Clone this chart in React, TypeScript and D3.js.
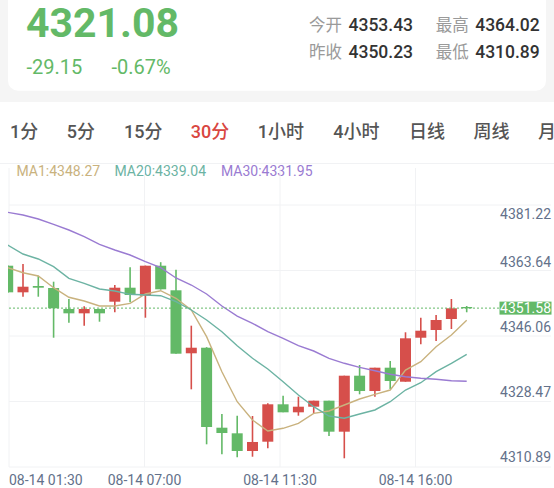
import React from "react";
import * as d3 from "d3";

// ---- data ----
const opens = [4363.07, 4355.86, 4357.57, 4357.03, 4351.34, 4350.17, 4351.34, 4353.32, 4357.11, 4354.94, 4363.07, 4356.41, 4339.34, 4340.85, 4319.18, 4317.66, 4312.87, 4315.39, 4325.52, 4323.35, 4324.87, 4326.5, 4318.1, 4333.27, 4329.12, 4335.44, 4331.64, 4343.56, 4345.65, 4348.63, 4351.88];
const closes = [4355.86, 4357.38, 4357.11, 4351.53, 4350.17, 4351.34, 4350.17, 4357.11, 4355.13, 4363.07, 4356.68, 4339.23, 4340.85, 4319.37, 4317.74, 4312.87, 4315.31, 4325.52, 4323.35, 4324.87, 4326.5, 4318.1, 4333.27, 4329.12, 4335.44, 4331.83, 4343.4, 4345.46, 4348.36, 4351.53, 4351.58];
const highs = [4363.2, 4363.53, 4360.36, 4358.74, 4354.05, 4352.07, 4351.4, 4357.84, 4362.64, 4363.1, 4364.02, 4361.99, 4346.82, 4341.0, 4322.89, 4322.43, 4322.35, 4325.79, 4327.85, 4327.58, 4326.5, 4326.5, 4333.27, 4336.17, 4335.44, 4337.25, 4345.03, 4348.98, 4349.71, 4354.05, 4352.15];
const lows = [4355.7, 4354.67, 4354.67, 4343.56, 4347.63, 4346.82, 4347.9, 4350.45, 4353.15, 4348.98, 4356.6, 4339.23, 4329.58, 4314.68, 4311.97, 4311.2, 4311.32, 4313.6, 4323.35, 4322.43, 4323.08, 4316.93, 4310.89, 4328.23, 4327.58, 4329.67, 4331.64, 4341.78, 4342.67, 4345.92, 4350.45];
const ma1 = [4362.53, 4361.17, 4360.28, 4357.11, 4354.51, 4353.51, 4352.15, 4352.15, 4352.88, 4355.4, 4356.3, 4354.24, 4351.07, 4343.84, 4334.35, 4326.22, 4321.27, 4318.29, 4319.02, 4320.37, 4323.08, 4323.7, 4325.33, 4326.96, 4328.23, 4329.39, 4334.81, 4337.06, 4341.13, 4344.3, 4348.27];
const ma20 = [4368.68, 4366.24, 4364.89, 4362.8, 4359.66, 4358.3, 4356.76, 4356.22, 4355.32, 4355.13, 4354.94, 4353.32, 4351.07, 4348.36, 4345.19, 4341.4, 4337.98, 4335.08, 4331.64, 4328.04, 4324.87, 4322.35, 4321.73, 4322.89, 4323.98, 4326.22, 4329.39, 4331.37, 4334.35, 4336.63, 4339.04];
const ma30 = [4377.54, 4376.81, 4375.72, 4374.29, 4372.74, 4370.93, 4368.87, 4367.32, 4365.97, 4364.15, 4362.53, 4359.74, 4357.84, 4355.4, 4352.15, 4349.44, 4347.47, 4345.19, 4343.4, 4341.4, 4339.96, 4337.98, 4336.63, 4335.54, 4334.62, 4333.65, 4333.0, 4332.56, 4332.29, 4331.91, 4331.75];

const yTickValues = [4381.22, 4363.64, 4346.06, 4328.47, 4310.89];
const xTickLabels = ["08-14 01:30", "08-14 07:00", "08-14 11:30", "08-14 16:00"];
const lastPrice = 4351.58;

const tabLabels = ["1分", "5分", "15分", "30分", "1小时", "4小时", "日线", "周线", "月线"];
const activeTab = "30分";

const maNames = ["MA1", "MA20", "MA30"];
const maValues = ["4348.27", "4339.04", "4331.95"];

const headerPrice = "4321.08";
const headerChange = "-29.15";
const headerPct = "-0.67%";
const statLabels = ["今开", "最高", "昨收", "最低"];
const statValues = ["4353.43", "4364.02", "4350.23", "4310.89"];

// ---- style / layout ----
const W = 554;
const H = 488;
const GREEN = "#63b967";
const RED = "#d64f4b";
const MA_COLORS = ["#c9b27e", "#6cb3a3", "#9a7bd2"];
const AXIS_TEXT = "#63718a";
const GRID = "#f1f2f4";
const FONT = "Roboto, 'Noto Sans CJK SC', sans-serif";

const paneLeft = 9;
const paneRight = 551;
const gridTop = 205;
const gridBottom = 467;
const tabX = [10, 66.7, 124, 190.7, 257.8, 333.3, 409, 473.4, 538];
const legendX = [16.5, 114.5, 221];

export default function App() {
  const n = closes.length;
  const x = d3.scaleLinear().domain([0, n - 1]).range([7.7, 466.7]);
  const y = d3.scaleLinear().domain([4310.89, 4364.02]).range([458.3, 262.2]);
  const bodyW = 11;

  const line = d3
    .line<number>()
    .x((_, i) => x(i))
    .y((d) => y(d))
    .curve(d3.curveLinear);

  const hLines = d3.range(5).map((i) => gridTop + ((gridBottom - gridTop) / 4) * i);
  const vLines = d3.range(4).map((i) => paneLeft + ((paneRight - paneLeft) / 4) * i);

  return (
    <svg
      width={W}
      height={H}
      style={{ position: "absolute", left: 0, top: 0, background: "#fff" }}
      fontFamily={FONT}
    >
      <defs>
        <clipPath id="pane">
          <rect x={paneLeft - 1} y={164} width={paneRight - paneLeft + 1} height={gridBottom - 164} />
        </clipPath>
      </defs>
      {/* header background */}
      <rect x={0} y={0} width={W} height={102} fill="#f5f5f5" />
      <rect x={8} y={-20} width={538} height={110.7} rx={10} fill="#fff" />

      <text x={26} y={37.4} fontSize={41} fontWeight={700} fill={GREEN}>
        {headerPrice}
      </text>
      <text x={26.5} y={74} fontSize={20} fill={GREEN}>
        {headerChange}
      </text>
      <text x={111.5} y={74} fontSize={20} fill={GREEN}>
        {headerPct}
      </text>
      {statLabels.map((lab, i) => {
        const col = i % 2;
        const row = Math.floor(i / 2);
        const lx = col === 0 ? 309 : 435.7;
        const by = row === 0 ? 31.4 : 57.6;
        return (
          <g key={lab}>
            <text x={lx} y={by} fontSize={16.5} fill="#9a9a9a">
              {lab}
            </text>
            <text x={lx + 39.5} y={by} fontSize={17.5} fontWeight={500} fill="#333">
              {statValues[i]}
            </text>
          </g>
        );
      })}

      {/* tabs */}
      {tabLabels.map((t, i) => (
        <text
          key={t}
          x={tabX[i]}
          y={137.8}
          fontSize={18}
          fontWeight={500}
          fill={t === activeTab ? "#d9463f" : "#555"}
        >
          {t}
        </text>
      ))}

      {/* pane top border */}
      <line x1={0} x2={W} y1={163.5} y2={163.5} stroke={GRID} />

      {/* MA legend */}
      {maNames.map((name, i) => (
        <text key={name} x={legendX[i]} y={176} fontSize={14} fill={MA_COLORS[i]}>
          {name}:{maValues[i]}
        </text>
      ))}

      {/* grid */}
      {hLines.map((hy, i) => (
        <line key={"h" + i} x1={paneLeft} x2={paneRight} y1={hy} y2={hy} stroke={GRID} />
      ))}
      {vLines.map((vx, i) => (
        <line key={"v" + i} x1={vx} x2={vx} y1={168} y2={gridBottom} stroke={GRID} />
      ))}

      <g clipPath="url(#pane)">
        {/* candles */}
        {closes.map((c, i) => {
          const o = opens[i];
          const up = c > o;
          const color = up ? RED : GREEN;
          const top = y(Math.max(o, c));
          const bot = y(Math.min(o, c));
          const cx = x(i);
          return (
            <g key={i}>
              <line x1={cx} x2={cx} y1={y(highs[i])} y2={y(lows[i])} stroke={color} strokeWidth={1.6} />
              <rect x={cx - bodyW / 2} y={top} width={bodyW} height={Math.max(1.3, bot - top)} fill={color} />
            </g>
          );
        })}

        {/* MA lines */}
        {[ma1, ma20, ma30].map((s, k) => (
          <path key={k} d={line(s) || ""} fill="none" stroke={MA_COLORS[k]} strokeWidth={1.4} />
        ))}
      </g>

      {/* last price line */}
      <line
        x1={paneLeft}
        x2={500}
        y1={y(lastPrice)}
        y2={y(lastPrice)}
        stroke={GREEN}
        strokeWidth={1}
        strokeDasharray="2 2"
      />

      {/* y axis labels */}
      {yTickValues.map((v) => (
        <text
          key={v}
          x={paneRight}
          y={Math.max(y(v) - 1.5, 213.8)}
          dominantBaseline="central"
          textAnchor="end"
          fontSize={14}
          fill={AXIS_TEXT}
        >
          {v.toFixed(2)}
        </text>
      ))}
      <rect x={499.5} y={y(lastPrice) - 6.5} width={52} height={13} fill={GREEN} />
      <text
        x={paneRight}
        y={y(lastPrice)}
        dominantBaseline="central"
        textAnchor="end"
        fontSize={14}
        fill="#fff"
      >
        {lastPrice.toFixed(2)}
      </text>

      {/* x axis labels */}
      {xTickLabels.map((t, i) => (
        <text
          key={t}
          x={vLines[i]}
          y={485}
          textAnchor={i === 0 ? "start" : "middle"}
          fontSize={14}
          fill={AXIS_TEXT}
        >
          {t}
        </text>
      ))}
    </svg>
  );
}
